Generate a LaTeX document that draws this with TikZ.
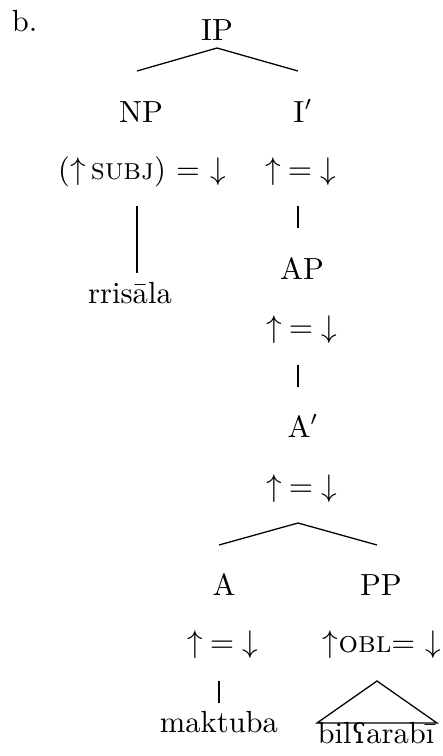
\documentclass[tikz,border=0pt]{standalone}
\usepackage{fontspec}
\newfontfamily\ipafont{DejaVu Serif}
\newcommand{\upeqdown}{$\uparrow\mskip4mu=\mskip5mu\downarrow$}
\begin{document}
\begin{tikzpicture}[x=0.35pt,y=-0.35pt,
  lab/.style={inner sep=0pt,outer sep=0pt,anchor=base,font=\fontsize{10.7}{13}\selectfont},
  branch/.style={line width=0.45pt}]
\useasboundingbox (0,0) rectangle (443,756);
% labels
\node[lab,anchor=base west] (ex) at (12,31) {b.};
\node[lab] (ip) at (217,40) {IP};
\node[lab] (np) at (141,122) {NP};
\node[lab] (ib) at (303,122) {I$'$};
\node[lab] (subj) at (142,179) {($\uparrow$\,\textsc{subj}) = $\downarrow$};
\node[lab] (eq1) at (301,179) {\upeqdown};
\node[lab] (rr) at (130,303) {rrisāla};
\node[lab] (ap) at (302,279) {AP};
\node[lab] (eq2) at (302,337) {\upeqdown};
\node[lab] (ab) at (303,437) {A$'$};
\node[lab] (eq3) at (302,496) {\upeqdown};
\node[lab] (a) at (224,595) {A};
\node[lab] (pp) at (381,595) {PP};
\node[lab] (eq4) at (223,652) {\upeqdown};
\node[lab] (obl) at (382,652) {$\uparrow$\textsc{obl}= $\downarrow$};
\node[lab] (mk) at (219,732) {maktuba};
\node[lab] (bil) at (376,743) {bil{\ipafont\fontsize{9.6}{12}\selectfont ʕ}arabī};
% branch points
\coordinate (ipT) at (217,48);
\coordinate (npT) at (137,71);
\coordinate (ibT) at (298,71);
\coordinate (subjB) at (137,206);
\coordinate (rrT) at (137,273);
\coordinate (eq1B) at (298,206);
\coordinate (apT) at (298,228);
\coordinate (eq2B) at (298,365);
\coordinate (abT) at (298,387);
\coordinate (eq3B) at (298,523);
\coordinate (aT) at (219,545);
\coordinate (ppT) at (377,545);
\coordinate (eq4B) at (219,681);
\coordinate (mkT) at (219,703);
\coordinate (oblB) at (377,681);
\coordinate (bilL) at (317,723);
\coordinate (bilR) at (437,723);
% branches
\draw[branch] (npT) -- (ipT) -- (ibT);
\draw[branch] (subjB) -- (rrT);
\draw[branch] (eq1B) -- (apT);
\draw[branch] (eq2B) -- (abT);
\draw[branch] (aT) -- (eq3B) -- (ppT);
\draw[branch] (eq4B) -- (mkT);
\draw[branch] (oblB) -- (bilL) -- (bilR) -- cycle;
\end{tikzpicture}
\end{document}
